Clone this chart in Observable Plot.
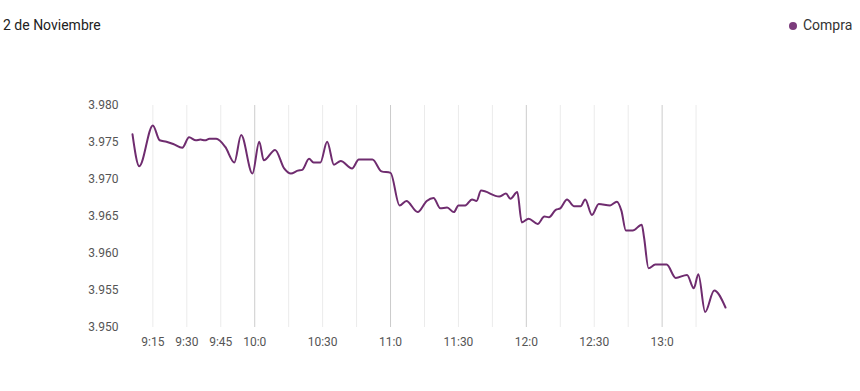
<!DOCTYPE html>
<html><head><meta charset="utf-8">
<script src="https://cdn.jsdelivr.net/npm/d3@7"></script>
<script src="https://cdn.jsdelivr.net/npm/@observablehq/plot@0.6"></script>
<style>
body{margin:0;background:#fff;font-family:Roboto, "Liberation Sans", sans-serif;}
#wrap{position:relative;width:860px;height:391px;overflow:hidden;}
#title{position:absolute;left:3px;top:18px;font-size:14px;line-height:14px;color:#222;white-space:nowrap;}
#legend{position:absolute;left:789px;top:18px;font-size:14px;line-height:14px;color:#333;white-space:nowrap;}
#legend .dot{display:inline-block;width:8px;height:8px;border-radius:50%;background:#7b3b7b;margin-right:6px;vertical-align:0px;}
#chart{position:absolute;left:0;top:0;}
</style>
</head><body>
<div id="wrap">
  <div id="chart"></div>
  <div id="title">2 de Noviembre</div>
  <div id="legend"><span class="dot"></span>Compra</div>
</div>
<script>
const day = "2023-11-02";
const times = ["9:06","9:09","9:15","9:18","9:21","9:24","9:28","9:31","9:34","9:36","9:38","9:40","9:43","9:47","9:51","9:54","9:59",
"10:02","10:04","10:09","10:13","10:16","10:19","10:21","10:24","10:26","10:29","10:32","10:35","10:38","10:43","10:46","10:52","10:56",
"11:00","11:04","11:07","11:12","11:16","11:19","11:22","11:25","11:28","11:30","11:33","11:36","11:38","11:40","11:48","11:51","11:53","11:56","11:58",
"12:01","12:05","12:08","12:10","12:13","12:15","12:18","12:21","12:24","12:26","12:29","12:32","12:37","12:40","12:42","12:44","12:47","12:51","12:52","12:54","12:57",
"13:02","13:06","13:11","13:14","13:16","13:19","13:23","13:28"];
const compra = [3.9761,3.9718,3.9773,3.9753,3.9751,3.9748,3.9743,3.9757,3.9753,3.9754,3.9753,3.9755,3.9755,3.9744,3.9723,3.9760,3.9708,
3.9751,3.9726,3.9740,3.9715,3.9708,3.9712,3.9713,3.9728,3.9723,3.9723,3.9751,3.9720,3.9725,3.9715,3.9727,3.9727,3.9711,
3.9709,3.9665,3.9671,3.9656,3.9671,3.9675,3.9661,3.9662,3.9656,3.9665,3.9665,3.9673,3.9671,3.9685,3.9677,3.9681,3.9674,3.9683,3.9642,
3.9647,3.9640,3.9650,3.9649,3.9659,3.9661,3.9673,3.9664,3.9664,3.9673,3.9652,3.9667,3.9665,3.9670,3.9658,3.9631,3.9631,3.9639,3.9622,3.9580,3.9585,
3.9585,3.9567,3.9571,3.9553,3.9572,3.9521,3.9550,3.9527];
const gridTimes = ["9:15","9:30","9:45","10:00","10:15","10:30","10:45","11:00","11:15","11:30","11:45","12:00","12:15","12:30","12:45","13:00","13:15"];
const xTickLabels = ["9:15","9:30","9:45","10:00","10:30","11:00","11:30","12:00","12:30","13:00"];
const yTicks = [3.950,3.955,3.960,3.965,3.970,3.975,3.980];

const parse = d3.timeParse("%Y-%m-%d %H:%M");
const toDate = t => parse(day + " " + t);
const data = times.map((t,i) => ({t: toDate(t), v: compra[i]}));
const grid = gridTimes.map(toDate);
const minorGrid = grid.filter(d => d.getMinutes() !== 0);
const hourGrid = grid.filter(d => d.getMinutes() === 0);

const chart = Plot.plot({
  width: 860, height: 391,
  marginTop: 105, marginBottom: 64, marginLeft: 132, marginRight: 135,
  style: {fontFamily: "Roboto, 'Liberation Sans', sans-serif", fontSize: "12px", color: "#555", background: "transparent"},
  x: {type: "time", domain: d3.extent(data, d => d.t)},
  y: {domain: [3.95, 3.98]},
  marks: [
    Plot.ruleX(minorGrid, {x: d => d, y1: 3.95, y2: 3.98, stroke: "#ebebeb", strokeWidth: 1}),
    Plot.ruleX(hourGrid, {x: d => d, y1: 3.95, y2: 3.98, stroke: "#cccccc", strokeWidth: 1}),
    Plot.axisY({ticks: yTicks, tickFormat: d3.format(".3f"), tickSize: 0, tickPadding: 14, label: null}),
    Plot.axisX({ticks: xTickLabels.map(toDate), tickFormat: d3.timeFormat("%-H:%-M"), tickSize: 0, tickPadding: 10, label: null}),
    Plot.lineY(data, {x: "t", y: "v", stroke: "#6f2c6f", strokeWidth: 2, curve: "monotone-x"})
  ]
});
document.getElementById("chart").appendChild(chart);
</script>
</body></html>
